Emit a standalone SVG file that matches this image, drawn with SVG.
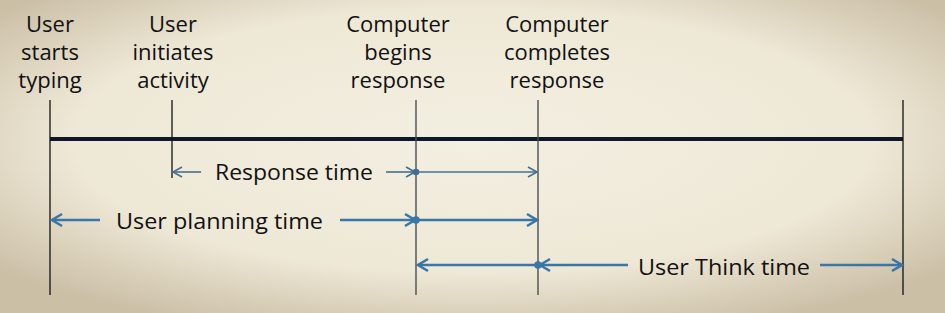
<svg xmlns="http://www.w3.org/2000/svg" width="945" height="313" viewBox="0 0 945 313">
<defs>
<radialGradient id="bg" cx="50%" cy="45%" r="65%">
<stop offset="0" stop-color="#f3efe1"/>
<stop offset="0.65" stop-color="#eee8d6"/>
<stop offset="1" stop-color="#cbbfa6"/>
</radialGradient>
<marker id="ahThin" markerUnits="userSpaceOnUse" markerWidth="14" markerHeight="14" viewBox="-11 -7 14 14" refX="0" refY="0" orient="auto">
<path d="M-9,-5 L0,0 L-9,5" fill="none" stroke="#45708f" stroke-width="1.6"/>
</marker>
<marker id="ahThick" markerUnits="userSpaceOnUse" markerWidth="16" markerHeight="16" viewBox="-12 -8 16 16" refX="0" refY="0" orient="auto">
<path d="M-10,-6 L0,0 L-10,6" fill="none" stroke="#3a76a6" stroke-width="2.6"/>
</marker>
<style>
text{font-family:"Open Sans","Liberation Sans",Arial,sans-serif;font-size:22px;fill:#111;}
.lab{text-anchor:middle;}
.v{stroke:#111;stroke-width:1.3;}
.vg{stroke:#4a4f52;stroke-width:1.4;}
.thin{stroke:#45708f;stroke-width:1.6;fill:none;marker-end:url(#ahThin);}
.thick{stroke:#3a76a6;stroke-width:2.6;fill:none;marker-end:url(#ahThick);}
.dotA{fill:#3f6f96;}
.dotB{fill:#3a76a6;}
</style>
</defs>
<rect x="0" y="0" width="945" height="313" fill="url(#bg)"/>

<g id="timeline">
<line x1="50" y1="139" x2="903" y2="139" stroke="#10172a" stroke-width="4"/>
</g>

<g id="ev-start-typing">
<line class="v" x1="50" y1="100" x2="50" y2="295"/>
<text class="lab" x="50" y="32">User</text>
<text class="lab" x="50" y="60">starts</text>
<text class="lab" x="50" y="88">typing</text>
</g>

<g id="ev-initiates">
<line class="v" x1="172" y1="100" x2="172" y2="178"/>
<text class="lab" x="173" y="32">User</text>
<text class="lab" x="173" y="60">initiates</text>
<text class="lab" x="173" y="88">activity</text>
</g>

<g id="ev-begins">
<line class="vg" x1="416" y1="100" x2="416" y2="295"/>
<text class="lab" x="398" y="32">Computer</text>
<text class="lab" x="398" y="60">begins</text>
<text class="lab" x="398" y="88">response</text>
</g>

<g id="ev-completes">
<line class="vg" x1="538" y1="100" x2="538" y2="295"/>
<text class="lab" x="557" y="32">Computer</text>
<text class="lab" x="557" y="60">completes</text>
<text class="lab" x="557" y="88">response</text>
</g>

<g id="ev-end">
<line class="v" x1="903" y1="100" x2="903" y2="295"/>
</g>

<g id="connectors">
<line class="thin" x1="201" y1="172" x2="173" y2="172"/>
<line class="thin" x1="386" y1="172" x2="415" y2="172"/>
<line class="thin" x1="416" y1="172" x2="537" y2="172"/>
<circle class="dotA" cx="416" cy="172" r="3.3"/>

<line class="thick" x1="100" y1="220" x2="52" y2="220"/>
<line class="thick" x1="340" y1="220" x2="415" y2="220"/>
<line class="thick" x1="416" y1="220" x2="537" y2="220"/>
<circle class="dotB" cx="416" cy="220" r="3.8"/>

<line class="thick" x1="537" y1="265" x2="418" y2="265"/>
<line class="thick" x1="628" y1="265" x2="540" y2="265"/>
<line class="thick" x1="820" y1="265" x2="902" y2="265"/>
<circle class="dotB" cx="538" cy="265" r="3.8"/>
</g>

<g id="labels">
<text x="215" y="180" textLength="158" lengthAdjust="spacingAndGlyphs">Response time</text>
<text x="116" y="229" textLength="207" lengthAdjust="spacingAndGlyphs">User planning time</text>
<text x="638" y="275" textLength="172" lengthAdjust="spacingAndGlyphs">User Think time</text>
</g>
</svg>
